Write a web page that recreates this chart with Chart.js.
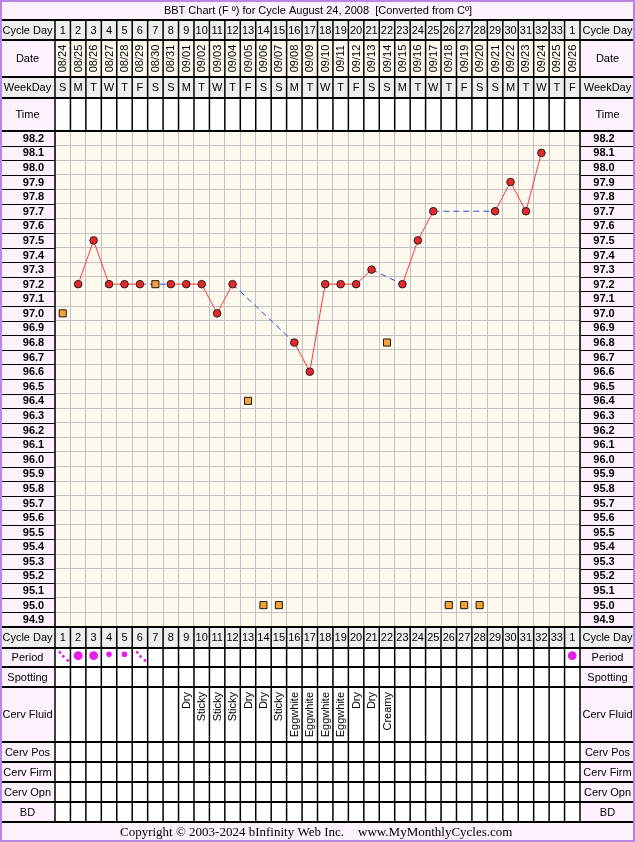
<!DOCTYPE html>
<html>
<head>
<meta charset="utf-8">
<title>BBT Chart</title>
<script src="https://cdn.jsdelivr.net/npm/chart.js@4.4.0/dist/chart.umd.min.js"></script>
<style>
  html, body { margin: 0; padding: 0; background: #fff; }
  #wrap { position: relative; width: 635px; height: 842px; }
</style>
</head>
<body>
<div id="wrap"><canvas id="bbt" width="635" height="842"></canvas></div>
<script>
// ---- chart data ----
const cycleDays = ['1', '2', '3', '4', '5', '6', '7', '8', '9', '10', '11', '12', '13', '14', '15', '16', '17',
  '18', '19', '20', '21', '22', '23', '24', '25', '26', '27', '28', '29', '30', '31', '32', '33', '1'];
const dates = ['08/24', '08/25', '08/26', '08/27', '08/28', '08/29', '08/30', '08/31', '09/01', '09/02', '09/03',
  '09/04', '09/05', '09/06', '09/07', '09/08', '09/09', '09/10', '09/11', '09/12', '09/13', '09/14', '09/15',
  '09/16', '09/17', '09/18', '09/19', '09/20', '09/21', '09/22', '09/23', '09/24', '09/25', '09/26'];
const weekDays = ['S', 'M', 'T', 'W', 'T', 'F', 'S', 'S', 'M', 'T', 'W', 'T', 'F', 'S', 'S', 'M', 'T',
  'W', 'T', 'F', 'S', 'S', 'M', 'T', 'W', 'T', 'F', 'S', 'S', 'M', 'T', 'W', 'T', 'F'];
const tempLabels = ['98.2', '98.1', '98.0', '97.9', '97.8', '97.7', '97.6', '97.5', '97.4', '97.3', '97.2',
  '97.1', '97.0', '96.9', '96.8', '96.7', '96.6', '96.5', '96.4', '96.3', '96.2', '96.1', '96.0', '95.9',
  '95.8', '95.7', '95.6', '95.5', '95.4', '95.3', '95.2', '95.1', '95.0', '94.9'];

// charted temperatures (red circles)
const temps = [null, 97.2, 97.5, 97.2, 97.2, 97.2, null, 97.2, 97.2, 97.2, 97.0, 97.2, null, null, null,
  96.8, 96.6, 97.2, 97.2, 97.2, 97.3, null, 97.2, 97.5, 97.7, null, null, null, 97.7, 97.9, 97.7, 98.1, null, null];
// discarded temperatures (orange squares)
const discarded = [97.0, null, null, null, null, null, 97.2, null, null, null, null, null, 96.4, 95.0, 95.0,
  null, null, null, null, null, null, 96.8, null, null, null, 95.0, 95.0, 95.0, null, null, null, null, null, null];

const period = ['spot', 'heavy', 'heavy', 'medium', 'medium', 'spot', '', '', '', '', '', '', '', '', '', '', '',
  '', '', '', '', '', '', '', '', '', '', '', '', '', '', '', '', 'heavy'];
const cervFluid = ['', '', '', '', '', '', '', '', 'Dry', 'Sticky', 'Sticky', 'Sticky', 'Dry', 'Dry', 'Sticky',
  'Eggwhite', 'Eggwhite', 'Eggwhite', 'Eggwhite', 'Dry', 'Dry', 'Creamy', '', '', '', '', '', '', '', '', '', '', '', ''];

const title = 'BBT Chart (F \u00ba) for Cycle August 24, 2008  [Converted from C\u00ba]';

// ---- layout ----
const W = 635, H = 842, LBL = 55;
const PINK = '#fcf1fc', GRAY = '#eeeeee', CREAM = '#fdf9ee', PURPLE = '#b986e6';
const SANS = '"Liberation Sans", Arial, sans-serif';

const headRows = [
  { name: 'Cycle Day', y0: 20, y1: 40, lblBg: GRAY, bg: GRAY, vals: cycleDays },
  { name: 'Date', y0: 40, y1: 77, lblBg: PINK, bg: CREAM, vals: dates, rot: 'mid' },
  { name: 'WeekDay', y0: 77, y1: 98, lblBg: GRAY, bg: GRAY, vals: weekDays },
  { name: 'Time', y0: 98, y1: 131, lblBg: PINK, bg: '#fff', vals: [] }
];
const footRows = [
  { name: 'Cycle Day', y0: 627, y1: 648, lblBg: GRAY, bg: GRAY, vals: cycleDays },
  { name: 'Period', y0: 648, y1: 667, lblBg: PINK, bg: '#fff', vals: [], marks: period },
  { name: 'Spotting', y0: 667, y1: 687, lblBg: PINK, bg: '#fff', vals: [] },
  { name: 'Cerv Fluid', y0: 687, y1: 742, lblBg: PINK, bg: '#fff', vals: cervFluid, rot: 'top' },
  { name: 'Cerv Pos', y0: 742, y1: 762, lblBg: PINK, bg: '#fff', vals: [] },
  { name: 'Cerv Firm', y0: 762, y1: 782, lblBg: PINK, bg: '#fff', vals: [] },
  { name: 'Cerv Opn', y0: 782, y1: 802, lblBg: PINK, bg: '#fff', vals: [] },
  { name: 'BD', y0: 802, y1: 822, lblBg: PINK, bg: '#fff', vals: [] }
];

function line(ctx, x1, y1, x2, y2, w, c) {
  ctx.save();
  ctx.strokeStyle = c;
  ctx.lineWidth = w;
  ctx.beginPath();
  ctx.moveTo(x1, y1);
  ctx.lineTo(x2, y2);
  ctx.stroke();
  ctx.restore();
}

function dot(ctx, x, y, r) {
  ctx.beginPath();
  ctx.arc(x, y, r, 0, Math.PI * 2);
  ctx.fill();
}

function drawPeriod(ctx, kind, cx, cy) {
  ctx.fillStyle = '#e81ee8';
  if (kind === 'heavy') dot(ctx, cx, cy - 1.8, 4.4);
  else if (kind === 'medium') dot(ctx, cx, cy - 3.2, 2.8);
  else if (kind === 'spot') {
    dot(ctx, cx - 2.7, cy - 5, 1.4);
    dot(ctx, cx + 0.6, cy - 1, 1.4);
    dot(ctx, cx + 5, cy + 3, 1.4);
  }
}

function drawRow(ctx, r, edges, mids) {
  const h = r.y1 - r.y0, my = (r.y0 + r.y1) / 2;
  const n = mids.length;
  ctx.fillStyle = r.lblBg;
  ctx.fillRect(0, r.y0, LBL, h);
  ctx.fillRect(W - LBL, r.y0, LBL, h);
  ctx.fillStyle = r.bg;
  ctx.fillRect(edges[0], r.y0, edges[n] - edges[0], h);

  ctx.fillStyle = '#000';
  ctx.font = '11px ' + SANS;
  ctx.textAlign = 'center';
  ctx.textBaseline = 'middle';
  ctx.fillText(r.name, LBL / 2, my + 0.5);
  ctx.fillText(r.name, W - LBL / 2, my + 0.5);

  r.vals.forEach((v, i) => {
    if (!v) return;
    ctx.save();
    ctx.fillStyle = '#000';
    if (r.rot) {
      ctx.translate(mids[i] + 0.5, r.rot === 'mid' ? my : r.y0 + 5);
      ctx.rotate(-Math.PI / 2);
      ctx.textAlign = r.rot === 'mid' ? 'center' : 'right';
      ctx.fillText(v, 0, 0);
    } else {
      ctx.fillText(v, mids[i], my + 0.5);
    }
    ctx.restore();
  });
  if (r.marks) r.marks.forEach((m, i) => drawPeriod(ctx, m, mids[i], my));

  edges.forEach(x => line(ctx, x, r.y0, x, r.y1, 1.5, '#000'));
  line(ctx, 0, r.y0, W, r.y0, 2, '#000');
  line(ctx, 0, r.y1, W, r.y1, 2, '#000');
}

const sheetPlugin = {
  id: 'bbtSheet',
  beforeDraw(chart) {
    const { ctx, chartArea: a, scales: { x, y } } = chart;
    const n = cycleDays.length;
    const cw = (a.right - a.left) / n;
    const mids = cycleDays.map((d, i) => x.getPixelForValue(i));
    const edges = mids.map(m => m - cw / 2).concat([mids[n - 1] + cw / 2]);

    ctx.save();
    ctx.fillStyle = '#fff';
    ctx.fillRect(0, 0, W, H);
    ctx.fillStyle = CREAM;
    ctx.fillRect(a.left, a.top, a.right - a.left, a.bottom - a.top);

    // title and footer bands
    ctx.fillStyle = PINK;
    ctx.fillRect(0, 0, W, 20);
    ctx.fillRect(0, 822, W, 20);
    ctx.fillStyle = '#000';
    ctx.font = '11px ' + SANS;
    ctx.textAlign = 'center';
    ctx.textBaseline = 'middle';
    ctx.fillText(title, 318, 10.5);
    ctx.font = '13px "Liberation Serif", "Times New Roman", serif';
    ctx.textAlign = 'left';
    ctx.fillText('Copyright \u00a9 2003-2024 bInfinity Web Inc.', 120, 832.5);
    ctx.fillText('www.MyMonthlyCycles.com', 358, 832.5);

    headRows.concat(footRows).forEach(r => drawRow(ctx, r, edges, mids));

    // temperature label columns
    ctx.fillStyle = PINK;
    ctx.fillRect(0, a.top, LBL, a.bottom - a.top);
    ctx.fillRect(W - LBL, a.top, LBL, a.bottom - a.top);
    ctx.fillStyle = '#000';
    ctx.font = 'bold 11px ' + SANS;
    ctx.textAlign = 'center';
    tempLabels.forEach(t => {
      const py = y.getPixelForValue(parseFloat(t));
      ctx.fillText(t, 33.5, py + 0.5);
      ctx.fillText(t, 604, py + 0.5);
      const b = Math.round(y.getPixelForValue(parseFloat(t) - 0.05)) + 0.5;
      line(ctx, 0, b, LBL, b, 1, '#000');
      line(ctx, W - LBL, b, W, b, 1, '#000');
    });
    ctx.restore();
  },
  afterDraw(chart) {
    const { ctx, chartArea: a } = chart;
    line(ctx, a.left, a.top, a.left, a.bottom, 1.5, '#000');
    line(ctx, a.right, a.top, a.right, a.bottom, 1.5, '#000');
    line(ctx, 0, a.top, W, a.top, 2, '#000');
    line(ctx, 0, a.bottom, W, a.bottom, 2, '#000');
    line(ctx, 0, 822, W, 822, 2, '#000');
    line(ctx, 0, 20, W, 20, 2, '#000');
    // outer purple frame
    ctx.save();
    ctx.strokeStyle = PURPLE;
    ctx.lineWidth = 2;
    ctx.strokeRect(1, 1, W - 2, H - 2);
    ctx.restore();
  }
};

const gap = ctx => ctx.p0.skip || ctx.p1.skip;

new Chart(document.getElementById('bbt'), {
  type: 'line',
  data: {
    labels: cycleDays,
    datasets: [
      {
        label: 'Discarded',
        data: discarded,
        showLine: false,
        pointStyle: 'rect',
        pointRadius: 5,
        pointBackgroundColor: '#f7a035',
        pointBorderColor: '#1a1a1a',
        pointBorderWidth: 1
      },
      {
        label: 'BBT',
        data: temps,
        borderColor: '#ff3a3a',
        borderWidth: 1,
        spanGaps: true,
        tension: 0,
        pointRadius: 3.8,
        pointBackgroundColor: '#e8262b',
        pointBorderColor: '#222',
        pointBorderWidth: 1,
        segment: {
          borderColor: c => gap(c) ? '#3344ee' : undefined,
          borderDash: c => gap(c) ? [6, 4] : undefined
        }
      }
    ]
  },
  options: {
    responsive: false,
    animation: false,
    devicePixelRatio: 1,
    events: [],
    layout: { padding: { left: LBL, right: LBL, top: 131, bottom: H - 627 } },
    scales: {
      x: {
        type: 'category',
        offset: true,
        grid: { offset: true, color: '#c2c2c2', drawTicks: false },
        border: { display: false },
        ticks: { display: false },
        afterFit: s => { s.height = 0; }
      },
      y: {
        type: 'linear',
        min: 94.85,
        max: 98.25,
        afterBuildTicks: s => {
          s.ticks = tempLabels.map(t => ({ value: parseFloat(t) + 0.05 }))
            .concat([{ value: parseFloat(tempLabels[tempLabels.length - 1]) - 0.05 }]);
        },
        grid: { color: '#c2c2c2', drawTicks: false },
        border: { display: false },
        ticks: { display: false },
        afterFit: s => { s.width = 0; }
      }
    },
    plugins: {
      legend: { display: false },
      tooltip: { enabled: false }
    }
  },
  plugins: [sheetPlugin]
});
</script>
</body>
</html>
